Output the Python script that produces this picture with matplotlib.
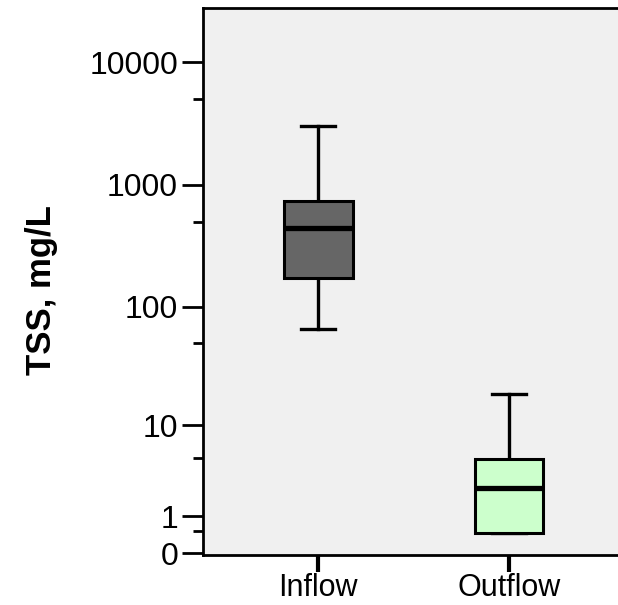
import numpy as np
import matplotlib
matplotlib.use("Agg")
import matplotlib.pyplot as plt
from matplotlib.ticker import FixedLocator, NullFormatter

# box summary values (mg/L)
groups = ['Inflow', 'Outflow']
whislo = [66, 0.46]
q1 = [172, 0.46]
med = [443, 2.4]
q3 = [740, 4.8]
whishi = [3000, 18.7]
box_colors = ['#666666', '#ccffcc']

major_ticks = [0, 1, 10, 100, 1000, 10000]
minor_ticks = [0.5, 5, 50, 500, 5000]

plt.rcParams['font.family'] = ['Liberation Sans', 'DejaVu Sans']


def fwd(v):
    v = np.asarray(v, dtype=float)
    return np.sign(v) * np.log10(1 + np.abs(v))


def inv(t):
    t = np.asarray(t, dtype=float)
    return np.sign(t) * (10 ** np.abs(t) - 1)


fig = plt.figure(figsize=(6.18, 6.05), dpi=100)
ax = fig.add_axes([203 / 618, 50 / 605, 1 - 203 / 618 + 0.01, 547 / 605])
ax.set_facecolor('#f0f0f0')
ax.set_yscale('function', functions=(fwd, inv))

stats = []
for i, g in enumerate(groups):
    stats.append(dict(label=g, whislo=whislo[i], q1=q1[i], med=med[i],
                      q3=q3[i], whishi=whishi[i], fliers=[]))

bp = ax.bxp(stats, positions=[1, 2], widths=0.36, patch_artist=True,
            showfliers=False,
            boxprops=dict(linewidth=2.2, edgecolor='black'),
            medianprops=dict(color='black', linewidth=3.8),
            whiskerprops=dict(color='black', linewidth=2.4),
            capprops=dict(color='black', linewidth=2.4),
            capwidths=0.18)
for patch, c in zip(bp['boxes'], box_colors):
    patch.set_facecolor(c)
    patch.set_zorder(3)
for m in bp['medians']:
    m.set_zorder(4)

ax.set_xlim(0.395, 2.605)
ax.set_ylim(inv(-0.016), inv(4.44))

ax.yaxis.set_major_locator(FixedLocator(major_ticks))
ax.yaxis.set_minor_locator(FixedLocator(minor_ticks))
ax.yaxis.set_minor_formatter(NullFormatter())
ax.set_yticklabels([str(t) for t in major_ticks])
ax.tick_params(axis='y', which='major', length=15, width=2, labelsize=23, pad=3)
ax.tick_params(axis='y', which='minor', length=7, width=2)
ax.tick_params(axis='x', length=12, width=3, labelsize=22, pad=1)

for s in ['left', 'bottom', 'top']:
    ax.spines[s].set_linewidth(2)
ax.spines['right'].set_visible(False)

fig.text(41 / 618, 1 - 290 / 605, 'TSS, mg/L', rotation=90, ha='center',
         va='center', fontsize=25, fontweight='bold')

fig.savefig('out.png', dpi=100)
